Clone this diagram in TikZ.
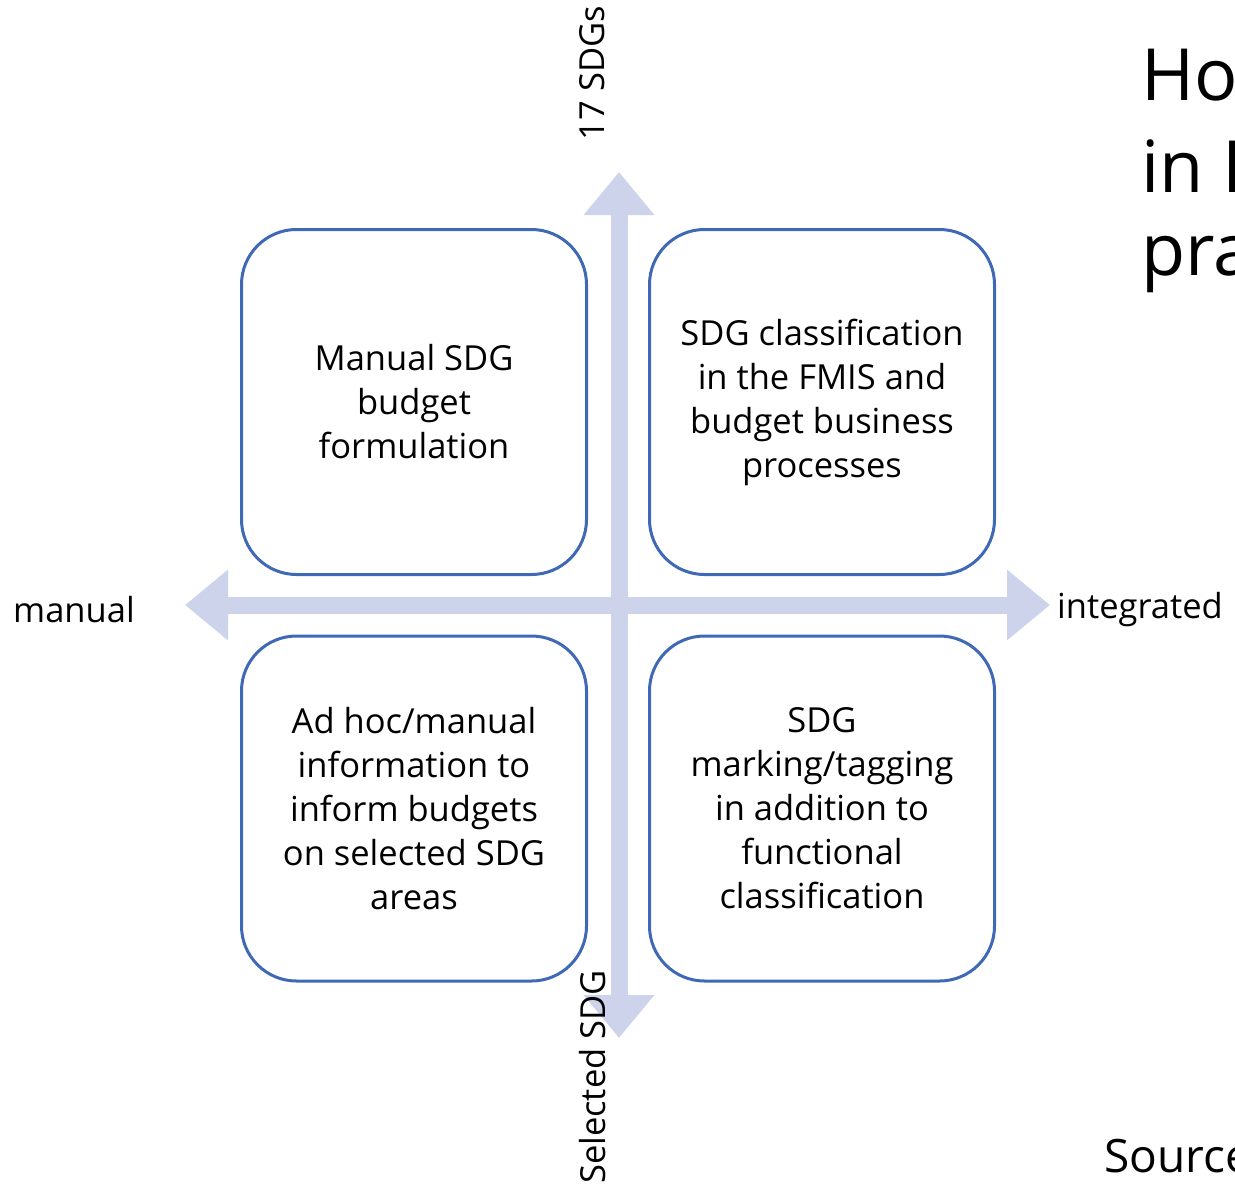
\documentclass[tikz,border=0pt]{standalone}
\usepackage{fontspec}
\setmainfont{Open Sans}
\usetikzlibrary{arrows.meta}
\definecolor{axisc}{HTML}{CDD3EA}
\definecolor{boxc}{HTML}{3F68B5}
\begin{document}
\begin{tikzpicture}[x=1pt,y=-1pt,
  quad/.style={draw=boxc, line width=3pt, rounded corners=55pt, minimum width=345pt, minimum height=345pt, align=center, font=\fontsize{34.5}{44}\selectfont, inner sep=0pt},
  axis/.style={draw=axisc, line width=17pt, {Triangle[width=68pt,length=43pt]}-{Triangle[width=68pt,length=43pt]}},
  lab/.style={font=\fontsize{34.5}{44}\selectfont, inner sep=0pt},
  big/.style={font=\fontsize{72}{90}\selectfont, inner sep=0pt, anchor=base west}]
\useasboundingbox (0,0) rectangle (1235,1184);
\clip (0,0) rectangle (1235,1184);
\coordinate (vb) at (619,1038);
\coordinate (vt) at (619,172);
\coordinate (hl) at (185,605);
\coordinate (hr) at (1050,605);
\draw[axis] (vb) -- (vt);
\draw[axis] (hl) -- (hr);
\node[quad] (tl) at (414,402) {Manual SDG\\budget\\formulation};
\node[quad] (tr) at (822,402) {SDG classification\\in the FMIS and\\budget business\\processes};
\node[quad] (bl) at (414,808.5) {Ad hoc/manual\\information to\\inform budgets\\on selected SDG\\areas};
\node[quad] (br) at (822,808.5) {SDG\\marking/tagging\\in addition to\\functional\\classification};
\node[lab, anchor=west] (lm) at (13,610) {manual};
\node[lab, anchor=west] (li) at (1057,610) {integrated};
\node[lab, rotate=90] (lt) at (592,73) {17 SDGs};
\node[lab, rotate=90] (lb) at (593,1077) {Selected SDG};
\node[big] (t1) at (1141,100) {How};
\node[big] (t2) at (1141,192) {in PFM};
\node[big] (t3) at (1141,275) {practice};
\node[font=\fontsize{46}{56}\selectfont, inner sep=0pt, anchor=base west] (src) at (1104,1172) {Source};
\end{tikzpicture}
\end{document}
